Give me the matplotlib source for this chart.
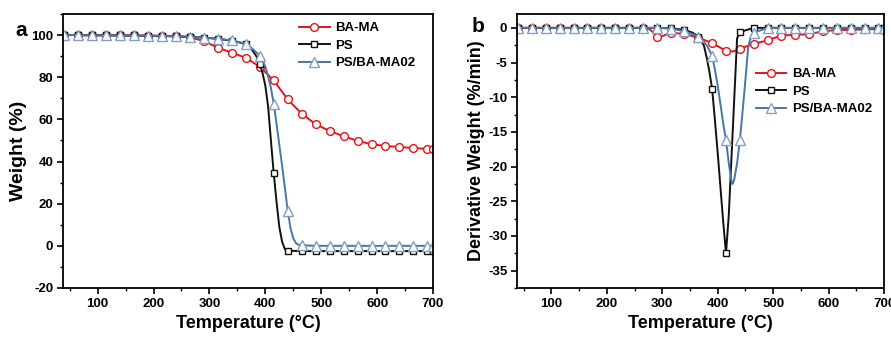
import numpy as np
import matplotlib
matplotlib.use("Agg")
import matplotlib.pyplot as plt
from matplotlib.ticker import MultipleLocator

plt.rcParams['font.family'] = ['Liberation Sans', 'DejaVu Sans']
plt.rcParams['font.weight'] = 'bold'
plt.rcParams['axes.unicode_minus'] = False

# ---------------- data: panel a (TGA weight %) ----------------
T_a_ba = [40, 65, 90, 115, 140, 165, 190, 215, 240, 265, 290, 315, 340, 365,
          390, 415, 440, 465, 490, 515, 540, 565, 590, 615, 640, 665, 690, 700]
W_ba = [100, 100, 99.9, 99.9, 99.8, 99.8, 99.7, 99.6, 99.4, 98.9, 97.2, 94.0,
        91.7, 89.2, 85.0, 78.5, 69.5, 62.7, 57.7, 54.5, 52.0, 49.8, 48.2, 47.4,
        46.9, 46.4, 46.0, 46.0]

T_a_ps = [40, 65, 90, 115, 140, 165, 190, 215, 240, 265, 290, 315, 340, 365,
          375, 385, 390, 395, 400, 405, 410, 415, 420, 425, 430, 435, 440,
          465, 490, 515, 540, 565, 590, 615, 640, 665, 690, 700]
W_ps = [100, 100, 99.9, 99.9, 99.8, 99.8, 99.7, 99.6, 99.4, 99.2, 98.8, 98.2,
        97.3, 95.8, 93.5, 89.5, 86.5, 82, 76, 66, 50, 34.5, 21, 9, 2, -1.6, -2.3,
        -2.5, -2.5, -2.5, -2.5, -2.5, -2.5, -2.5, -2.5, -2.5, -2.5, -2.5]

T_a_bl = [40, 65, 90, 115, 140, 165, 190, 215, 240, 265, 290, 315, 340, 365,
          375, 385, 390, 395, 400, 405, 410, 415, 420, 425, 430, 435, 440, 445,
          450, 455, 460, 465, 490, 515, 540, 565, 590, 615, 640, 665, 690, 700]
W_bl = [100, 100, 99.9, 99.9, 99.8, 99.8, 99.7, 99.6, 99.4, 99.2, 98.8, 98.3,
        97.5, 95.9, 94.0, 91.5, 90.0, 88.0, 85.0, 80.5, 75.0, 67.5, 58, 48, 38,
        27.5, 16.6, 8.5, 3.5, 1.2, 0.5, 0.3, 0, 0, 0, 0, 0, 0, 0, 0, 0, 0]

# ---------------- data: panel b (DTG %/min) ----------------
T_b_ba = [40, 65, 90, 115, 140, 165, 190, 215, 240, 265, 275, 283, 290, 300,
          315, 330, 340, 365, 390, 415, 428, 440, 465, 490, 515, 540, 565, 590,
          615, 640, 665, 690, 700]
D_ba = [0, 0, 0, 0, 0, 0, 0, 0, 0, 0, -0.1, -0.6, -1.3, -1.2, -0.7, -0.8, -0.9,
        -1.4, -2.2, -3.3, -3.4, -3.0, -2.3, -1.8, -1.1, -1.0, -0.9, -0.5, -0.3,
        -0.3, -0.2, -0.2, -0.3]

T_b_ps = [40, 65, 90, 115, 140, 165, 190, 215, 240, 265, 290, 315, 340, 355,
          365, 375, 380, 385, 390, 395, 400, 405, 410, 415, 420, 425, 430, 435,
          440, 465, 490, 515, 540, 565, 590, 615, 640, 665, 690, 700]
D_ps = [0, 0, 0, 0, 0, 0, 0, 0, 0, 0, 0, -0.05, -0.3, -0.7, -1.3, -2.5, -4.2,
        -6.3, -8.8, -13.3, -18, -23, -28, -32.5, -27, -18.5, -10, -1.5, -0.6,
        0, 0, 0, 0, 0, 0, 0, 0, 0, 0, 0]

T_b_bl = [40, 65, 90, 115, 140, 165, 190, 215, 240, 265, 290, 315, 340, 355,
          365, 375, 380, 385, 390, 395, 400, 405, 410, 415, 420, 425, 427, 430,
          435, 440, 445, 450, 455, 460, 465, 490, 515, 540, 565, 590, 615, 640,
          665, 690, 700]
D_bl = [0, 0, 0, 0, 0, 0, 0, 0, 0, 0, 0, -0.1, -0.5, -0.9, -1.3, -2.0, -2.5,
        -3.2, -4.1, -6.0, -8.3, -11.0, -13.8, -16.2, -19.5, -22.2, -22.5, -21.8,
        -19.5, -16.2, -12.0, -7.5, -2.8, -1.2, -0.7, 0, 0, 0, 0, 0, 0, 0, 0, 0, 0]

labels = ['BA-MA', 'PS', 'PS/BA-MA02']
marker_T = list(range(40, 700, 25)) + [700]

RED = '#e3151b'
BLACK = '#111111'
BLUE = '#4677a8'
BLUE_M = '#7fa0c4'

styles = [dict(color=RED, marker='o', ms=5.6, mec=RED, mfc='white', mew=1.0, lw=1.4),
          dict(color=BLACK, marker='s', ms=5.0, mec=BLACK, mfc='white', mew=1.0, lw=1.4),
          dict(color=BLUE, marker='^', ms=6.5, mec=BLUE_M, mfc='white', mew=1.0, lw=1.4)]


def mask(T):
    return [i for i, t in enumerate(T) if t in marker_T]


fig = plt.figure(figsize=(8.91, 3.38), dpi=100)

axa = fig.add_axes([63 / 891, 1 - 288 / 338, (433 - 63) / 891, (288 - 14) / 338])
axb = fig.add_axes([517 / 891, 1 - 288 / 338, (884 - 517) / 891, (288 - 14) / 338])

for T, Y, st, lab in zip([T_a_ba, T_a_ps, T_a_bl], [W_ba, W_ps, W_bl], styles, labels):
    axa.plot(T, Y, markevery=mask(T), label=lab, **st)
for T, Y, st, lab in zip([T_b_ba, T_b_ps, T_b_bl], [D_ba, D_ps, D_bl], styles, labels):
    axb.plot(T, Y, markevery=mask(T), label=lab, **st)

axa.set_xlim(38, 700)
axa.set_ylim(-20, 110)
axa.yaxis.set_major_locator(MultipleLocator(20))
axa.yaxis.set_minor_locator(MultipleLocator(10))
axa.set_ylabel('Weight (%)', fontsize=14, fontweight='bold', labelpad=3)

axb.set_xlim(38, 700)
axb.set_ylim(-37.5, 2)
axb.yaxis.set_major_locator(MultipleLocator(5))
axb.yaxis.set_minor_locator(MultipleLocator(2.5))
axb.set_ylabel('Derivative Weight (%/min)', fontsize=13, fontweight='bold', labelpad=2)

for ax in (axa, axb):
    ax.xaxis.set_major_locator(MultipleLocator(100))
    ax.xaxis.set_minor_locator(MultipleLocator(50))
    ax.set_xticks([100, 200, 300, 400, 500, 600, 700])
    ax.set_xlabel('Temperature (\u00b0C)', fontsize=13, fontweight='bold', labelpad=4)
    ax.tick_params(which='major', direction='out', length=4, width=1.2, labelsize=9.5,
                   top=False, right=False, pad=3)
    ax.tick_params(which='minor', direction='out', length=2.5, width=1.0,
                   top=False, right=False)
    for lab in ax.get_xticklabels() + ax.get_yticklabels():
        lab.set_fontweight('bold')
    for s in ax.spines.values():
        s.set_linewidth(1.3)

leg_a = axa.legend(loc='upper left', bbox_to_anchor=(0.617, 1.0), frameon=False,
                   fontsize=9.5, handlelength=2.3, handletextpad=0.4, labelspacing=0.4,
                   borderaxespad=0.2)
leg_b = axb.legend(loc='upper left', bbox_to_anchor=(0.63, 0.832), frameon=False,
                   fontsize=9.5, handlelength=2.3, handletextpad=0.4, labelspacing=0.4,
                   borderaxespad=0.2)
for leg in (leg_a, leg_b):
    for t in leg.get_texts():
        t.set_fontweight('bold')

fig.text(15 / 891, 1 - 30 / 338, 'a', fontsize=15, fontweight='bold', va='center', ha='left')
fig.text(472 / 891, 1 - 26 / 338, 'b', fontsize=15, fontweight='bold', va='center', ha='left')

fig.savefig('out.png', dpi=100)
